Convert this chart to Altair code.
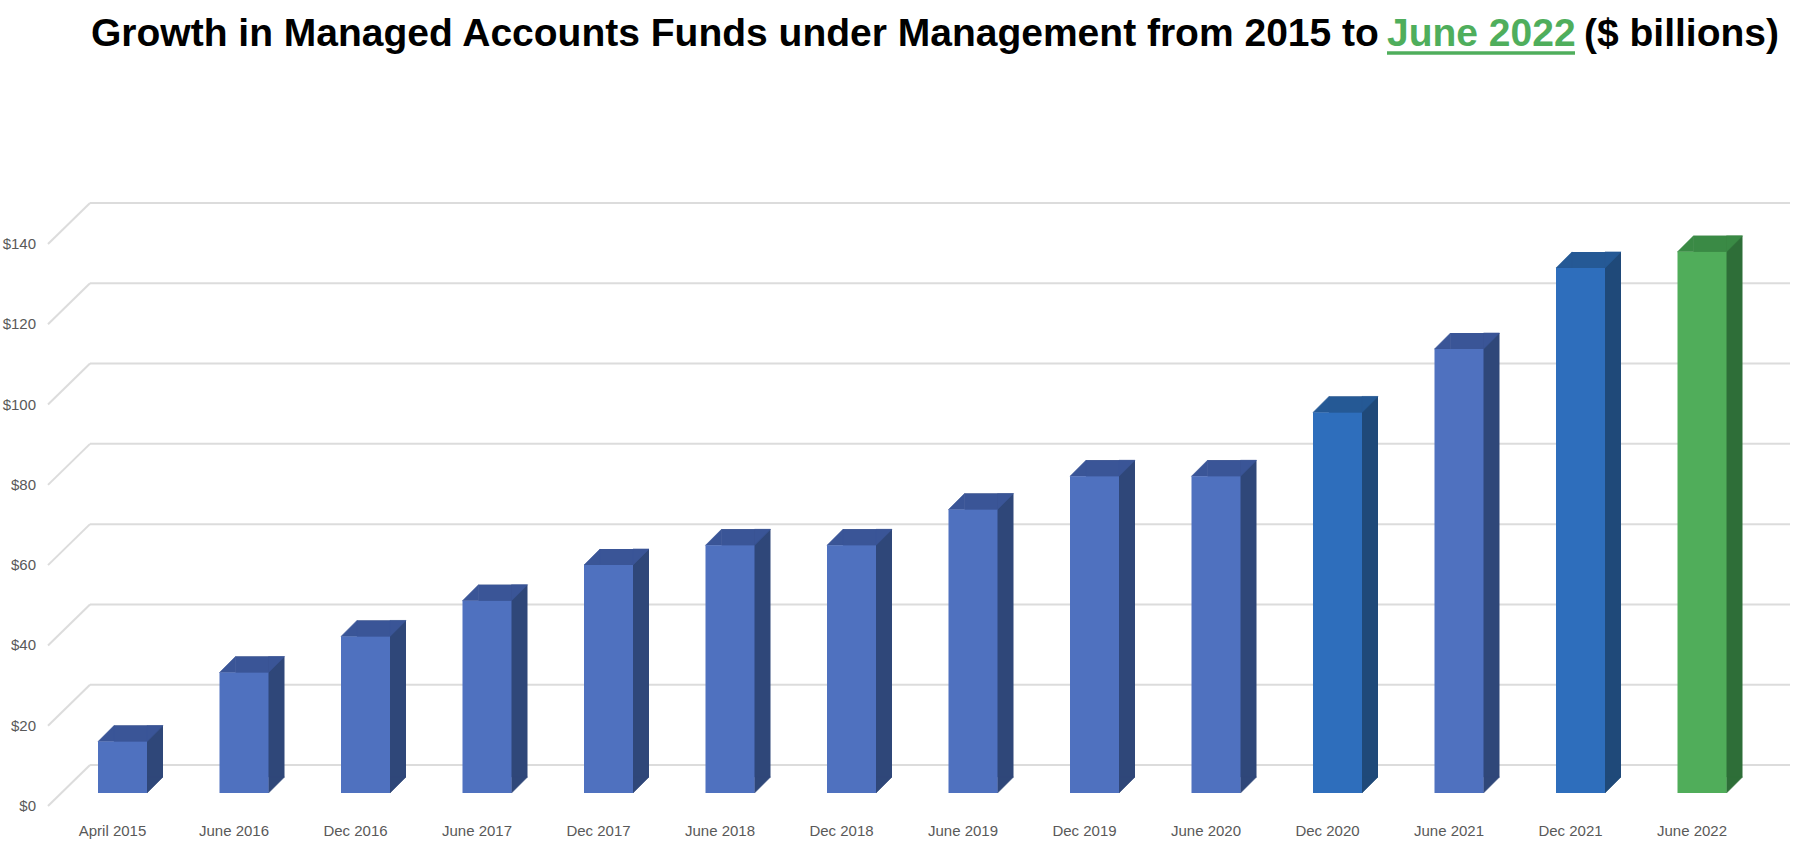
import altair as alt
import pandas as pd

# ---------------- data ----------------
periods = ["April 2015", "June 2016", "Dec 2016", "June 2017", "Dec 2017",
           "June 2018", "Dec 2018", "June 2019", "Dec 2019", "June 2020",
           "Dec 2020", "June 2021", "Dec 2021", "June 2022"]
values = [12.8, 30.0, 39.0, 47.9, 56.8, 61.7, 61.7, 70.6, 78.9, 78.9,
          94.8, 110.6, 130.8, 134.8]
y_ticks = [0, 20, 40, 60, 80, 100, 120, 140]
y_tick_labels = ["$0", "$20", "$40", "$60", "$80", "$100", "$120", "$140"]
title_main = "Growth in Managed Accounts Funds under Management from 2015 to"
title_highlight = "June 2022"
title_tail = "($ billions)"

# ---------------- styling ----------------
HIGHLIGHT = ["Dec 2020", "Dec 2021"]
LATEST = ["June 2022"]
STANDARD = [p for p in periods if p not in HIGHLIGHT and p not in LATEST]
groups = [
    (STANDARD, "#4f71bf", "#2f4779", "#3a5597"),
    (HIGHLIGHT, "#2e6ebc", "#1f4979", "#255995"),
    (LATEST, "#50ad5a", "#2e6e38", "#3a8a45"),
]
GRID = "#dcdcdc"
LABEL = "#595959"
LABEL_FONT = "Liberation Sans Narrow, Liberation Sans, sans-serif"

BAR_W = 49
DEPTH = 16
BACK_SHIFT = -28
FRONT_SHIFT = 13

df = pd.DataFrame({"period": periods, "value": values})
ticks = pd.DataFrame({"tick": y_ticks, "label": y_tick_labels})

xs = alt.Scale(domain=periods, range=[61.75, 1762.75], paddingInner=0, paddingOuter=0)
ys = alt.Scale(domain=[0, 140], range=[793, 231], nice=False, zero=False)
X = alt.X("period:N", scale=xs, axis=None, sort=periods)
Y = alt.Y("value:Q", scale=ys, axis=None)
YT = alt.Y("tick:Q", scale=ys, axis=None)

layers = []

# back wall gridlines
layers.append(
    alt.Chart(ticks).mark_rule(color=GRID, strokeWidth=2, yOffset=BACK_SHIFT).encode(
        x=alt.value(90), x2=alt.value(1790), y=YT)
)
# floor / side diagonals
layers.append(
    alt.Chart(ticks).mark_rule(color=GRID, strokeWidth=2, yOffset=FRONT_SHIFT,
                               y2Offset=BACK_SHIFT).encode(
        x=alt.value(48), x2=alt.value(90), y=YT, y2=alt.Y2("tick:Q"))
)

TRI_TL = "M-1,1L1,-1L1,1Z"
TRI_UL = "M-1,1L-1,-1L1,-1Z"
half = BAR_W / 2
for members, c_front, c_side, c_top in groups:
    base = alt.Chart(df).transform_filter(
        alt.FieldOneOfPredicate(field="period", oneOf=members))
    # back box (side face colour)
    layers.append(base.mark_bar(size=BAR_W, color=c_side, xOffset=DEPTH,
                                yOffset=-DEPTH, y2Offset=-DEPTH).encode(
        x=X, y=Y, y2=alt.datum(0)))
    # bottom-right bevel of side face
    layers.append(base.mark_point(shape=TRI_UL, size=DEPTH * DEPTH, filled=True,
                                  opacity=1, color=c_side, stroke=c_side, strokeWidth=0.6,
                                  xOffset=half + DEPTH / 2, yOffset=-DEPTH / 2).encode(
        x=X, y=alt.Y(datum=0, scale=ys, axis=None)))
    # top face
    layers.append(base.mark_bar(size=BAR_W - DEPTH, color=c_top, xOffset=DEPTH / 2,
                                y2Offset=-DEPTH).encode(
        x=X, y=Y, y2=alt.Y2("value:Q")))
    layers.append(base.mark_point(shape=TRI_TL, size=DEPTH * DEPTH, filled=True,
                                  opacity=1, color=c_top, stroke=c_top, strokeWidth=0.6,
                                  xOffset=-half + DEPTH / 2, yOffset=-DEPTH / 2).encode(
        x=X, y=Y))
    layers.append(base.mark_point(shape=TRI_UL, size=DEPTH * DEPTH, filled=True,
                                  opacity=1, color=c_top, stroke=c_top, strokeWidth=0.6,
                                  xOffset=half + DEPTH / 2, yOffset=-DEPTH / 2).encode(
        x=X, y=Y))
    # front face
    layers.append(base.mark_bar(size=BAR_W, color=c_front).encode(
        x=X, y=Y, y2=alt.datum(0)))

# category labels
layers.append(
    alt.Chart(df).mark_text(font=LABEL_FONT, fontSize=15, color=LABEL,
                            baseline="middle", xOffset=-10).encode(
        x=X, y=alt.value(831), text="period:N")
)
# value labels
layers.append(
    alt.Chart(ticks).mark_text(font=LABEL_FONT, fontSize=15, color=LABEL,
                               align="right", baseline="middle",
                               yOffset=FRONT_SHIFT).encode(
        x=alt.value(36), y=YT, text="label:N")
)

# title pieces
TFONT = "Liberation Sans, Arial, sans-serif"
layers.append(
    alt.Chart(pd.DataFrame({"t": [title_main]})).mark_text(
        font=TFONT, fontSize=39, fontWeight="bold", color="black",
        align="left", baseline="alphabetic").encode(
        x=alt.value(91), y=alt.value(46), text="t:N")
)
layers.append(
    alt.Chart(pd.DataFrame({"t": [title_highlight]})).mark_text(
        font=TFONT, fontSize=39, fontWeight="bold", color="#4fae5c",
        align="left", baseline="alphabetic").encode(
        x=alt.value(1387), y=alt.value(46), text="t:N")
)
layers.append(
    alt.Chart(pd.DataFrame({"t": [title_tail]})).mark_text(
        font=TFONT, fontSize=39, fontWeight="bold", color="black",
        align="left", baseline="alphabetic").encode(
        x=alt.value(1584), y=alt.value(46), text="t:N")
)
layers.append(
    alt.Chart(pd.DataFrame({"t": [title_highlight]})).mark_rule(
        color="#4fae5c", strokeWidth=3.5).encode(
        x=alt.value(1387), x2=alt.value(1575), y=alt.value(53))
)

chart = alt.layer(*layers).properties(
    width=1812, height=858, autosize="none", padding=0, background="white"
).configure_view(stroke=None)

chart.save("out.html", embed_options={"renderer": "svg", "actions": False})
